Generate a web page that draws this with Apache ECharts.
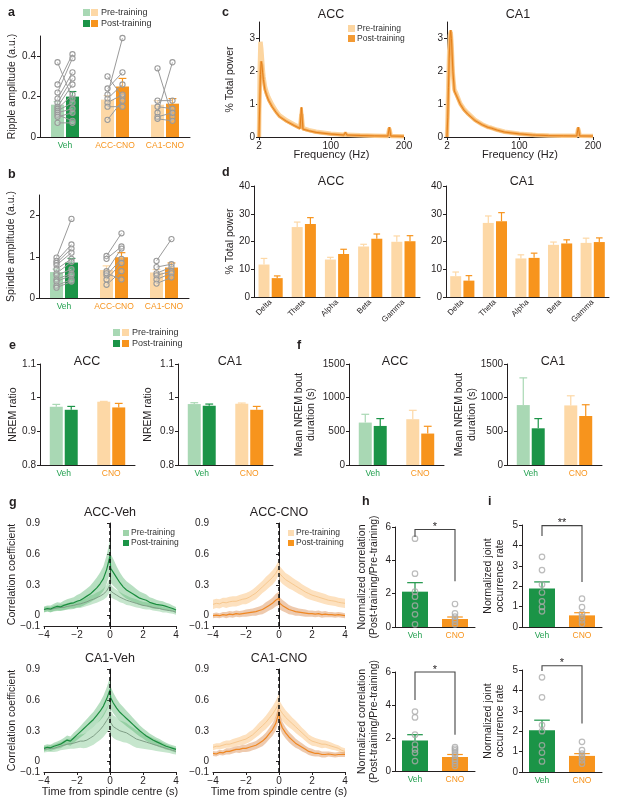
<!DOCTYPE html>
<html><head><meta charset="utf-8">
<script src="https://cdn.jsdelivr.net/npm/echarts@6/dist/echarts.min.js"></script>
<style>html,body{margin:0;padding:0;background:#fff}#c{width:617px;height:810px}</style>
</head><body><div id="c"></div>
<script>
// ---------------- DATA ----------------
// a: ripple amplitude
const groupCats = ['Veh', 'ACC-CNO', 'CA1-CNO'];
const rippleBarPre  = [0.16, 0.185, 0.16];
const rippleErrPre  = [0.175, 0.205, 0.18];
const rippleBarPost = [0.2, 0.25, 0.165];
const rippleErrPost = [0.225, 0.29, 0.19];
const rippleVehPre  = [0.37, 0.26, 0.22, 0.19, 0.17, 0.15, 0.14, 0.13, 0.12, 0.11, 0.10, 0.07];
const rippleVehPost = [0.19, 0.41, 0.39, 0.32, 0.29, 0.26, 0.21, 0.17, 0.14, 0.08, 0.12, 0.07];
const rippleAccPre  = [0.30, 0.24, 0.21, 0.19, 0.17, 0.15, 0.085];
const rippleAccPost = [0.20, 0.32, 0.49, 0.26, 0.21, 0.15, 0.18];
const rippleCa1Pre  = [0.34, 0.18, 0.15, 0.12, 0.10, 0.09];
const rippleCa1Post = [0.10, 0.18, 0.14, 0.37, 0.12, 0.08];
// b: spindle amplitude
const spindleBarPre  = [0.63, 0.68, 0.62];
const spindleErrPre  = [0.7, 0.78, 0.69];
const spindleBarPost = [0.86, 0.99, 0.74];
const spindleErrPost = [0.96, 1.1, 0.85];
const spindleVehPre  = [0.98, 0.9, 0.85, 0.8, 0.7, 0.6, 0.55, 0.45, 0.4, 0.3, 0.25];
const spindleVehPost = [1.92, 1.3, 1.2, 1.1, 0.95, 0.88, 0.7, 0.6, 0.55, 0.45, 0.4];
const spindleAccPre  = [1.02, 0.95, 0.65, 0.55, 0.45, 0.32, 0.6];
const spindleAccPost = [1.57, 1.25, 1.2, 0.95, 0.85, 0.65, 0.45];
const spindleCa1Pre  = [0.9, 0.75, 0.6, 0.55, 0.45, 0.35];
const spindleCa1Post = [1.43, 0.82, 0.75, 0.65, 0.6, 0.5];
// c: power spectra
const freqHz     = [2, 3, 4, 5, 6, 7, 8, 10, 12, 15, 20, 25, 30, 40, 50, 58, 60, 62, 70, 80, 100, 118, 120, 122, 140, 160, 178, 180, 182, 200];
const accPsdPre  = [0, 2.0, 2.9, 2.7, 2.4, 2.1, 1.85, 1.55, 1.38, 1.2, 0.98, 0.8, 0.66, 0.5, 0.38, 0.29, 0.7, 0.27, 0.21, 0.16, 0.1, 0.07, 0.12, 0.07, 0.05, 0.04, 0.03, 0.25, 0.03, 0.02];
const accPsdPost = [0, 1.0, 1.9, 2.3, 2.2, 1.95, 1.75, 1.45, 1.3, 1.12, 0.92, 0.76, 0.62, 0.47, 0.35, 0.26, 0.9, 0.24, 0.19, 0.14, 0.09, 0.06, 0.14, 0.06, 0.045, 0.035, 0.03, 0.3, 0.03, 0.02];
const ca1PsdPre  = [0, 0.8, 1.8, 2.6, 3.1, 3.2, 2.9, 1.9, 1.45, 1.3, 1.02, 0.85, 0.73, 0.52, 0.38, 0.3, 0.29, 0.28, 0.22, 0.16, 0.1, 0.065, 0.063, 0.06, 0.045, 0.04, 0.035, 0.25, 0.035, 0.03];
const ca1PsdPost = [0, 0.6, 1.5, 2.4, 3.0, 3.25, 3.0, 2.0, 1.4, 1.25, 1.0, 0.82, 0.7, 0.5, 0.37, 0.29, 0.28, 0.27, 0.21, 0.15, 0.095, 0.06, 0.058, 0.055, 0.042, 0.037, 0.032, 0.3, 0.032, 0.028];
// d: band power
const bandCats     = ['Delta', 'Theta', 'Alpha', 'Beta', 'Gamma'];
const dAccPre      = [11.7, 25.2, 13.5, 18.2, 19.9];
const dAccPreErr   = [13.9, 27.0, 14.3, 19.0, 22.0];
const dAccPost     = [6.8, 26.3, 15.5, 21.0, 20.1];
const dAccPostErr  = [7.6, 28.6, 17.2, 22.7, 22.1];
const dCa1Pre      = [7.5, 26.7, 13.9, 18.8, 19.5];
const dCa1PreErr   = [9.0, 29.2, 15.2, 19.8, 21.2];
const dCa1Post     = [5.9, 27.3, 14.1, 19.3, 19.8];
const dCa1PostErr  = [7.7, 30.4, 15.8, 20.6, 21.3];
// e: NREM ratio
const condCats     = ['Veh', 'CNO'];
const eAccPre      = [0.973, 0.988];
const eAccPreErr   = [0.980, 0.989];
const eAccPost     = [0.964, 0.971];
const eAccPostErr  = [0.974, 0.983];
const eCa1Pre      = [0.981, 0.982];
const eCa1PreErr   = [0.985, 0.984];
const eCa1Post     = [0.976, 0.964];
const eCa1PostErr  = [0.981, 0.974];
// f: NREM bout duration
const fAccPre      = [630, 680];
const fAccPreErr   = [753, 812];
const fAccPost     = [580, 467];
const fAccPostErr  = [689, 575];
const fCa1Pre      = [890, 885];
const fCa1PreErr   = [1294, 1028];
const fCa1Post     = [545, 728];
const fCa1PostErr  = [689, 895];
// g: cross-correlations
const timeS = [-4,-3.8,-3.6,-3.4,-3.2,-3,-2.8,-2.6,-2.4,-2.2,-2,-1.8,-1.6,-1.4,-1.2,-1,-0.8,-0.6,-0.4,-0.2,0,0.04,0.2,0.4,0.6,0.8,1,1.2,1.4,1.6,1.8,2,2.2,2.4,2.6,2.8,3,3.2,3.4,3.6,3.8,4];
const gAccVehPostM = [0.06,0.07,0.065,0.08,0.09,0.085,0.10,0.11,0.12,0.125,0.14,0.15,0.17,0.19,0.21,0.24,0.27,0.31,0.36,0.45,0.58,0.46,0.42,0.37,0.32,0.28,0.25,0.23,0.21,0.19,0.17,0.16,0.15,0.13,0.12,0.11,0.105,0.10,0.09,0.08,0.07,0.055];
const gAccVehPostS = [0.03,0.03,0.035,0.035,0.04,0.04,0.045,0.05,0.05,0.055,0.06,0.065,0.07,0.075,0.08,0.09,0.10,0.11,0.12,0.14,0.16,0.14,0.13,0.11,0.10,0.09,0.085,0.08,0.075,0.07,0.065,0.06,0.055,0.05,0.05,0.045,0.04,0.04,0.035,0.035,0.03,0.03];
const gAccVehPreM  = [0.06,0.065,0.06,0.07,0.075,0.08,0.08,0.09,0.095,0.10,0.11,0.115,0.125,0.135,0.15,0.16,0.175,0.19,0.21,0.24,0.30,0.24,0.22,0.20,0.18,0.165,0.15,0.14,0.13,0.12,0.11,0.10,0.095,0.09,0.08,0.075,0.07,0.06,0.055,0.05,0.045,0.035];
const gAccVehPreS  = [0.025,0.025,0.025,0.03,0.03,0.03,0.03,0.03,0.035,0.035,0.035,0.04,0.04,0.04,0.045,0.045,0.05,0.05,0.055,0.06,0.07,0.06,0.055,0.05,0.05,0.045,0.045,0.04,0.04,0.04,0.035,0.035,0.035,0.03,0.03,0.03,0.03,0.03,0.025,0.025,0.025,0.025];
const gAccCnoPreM  = [0.11,0.12,0.115,0.13,0.125,0.135,0.14,0.14,0.15,0.16,0.165,0.18,0.20,0.22,0.25,0.28,0.31,0.34,0.37,0.41,0.47,0.41,0.38,0.35,0.33,0.31,0.29,0.27,0.25,0.23,0.215,0.20,0.19,0.18,0.17,0.16,0.15,0.145,0.14,0.13,0.125,0.12];
const gAccCnoPreS  = [0.045,0.045,0.045,0.045,0.05,0.05,0.05,0.05,0.05,0.05,0.055,0.055,0.055,0.06,0.06,0.06,0.065,0.065,0.07,0.07,0.07,0.07,0.07,0.065,0.065,0.06,0.06,0.06,0.055,0.055,0.055,0.05,0.05,0.05,0.05,0.05,0.045,0.045,0.045,0.045,0.045,0.045];
const gAccCnoPostM = [0.0,0.005,0.0,0.01,0.005,0.015,0.01,0.02,0.015,0.02,0.025,0.03,0.035,0.04,0.05,0.06,0.08,0.10,0.12,0.15,0.17,0.12,0.10,0.08,0.06,0.05,0.04,0.035,0.03,0.025,0.02,0.02,0.015,0.02,0.01,0.015,0.01,0.01,0.005,0.01,0.005,0.0];
const gAccCnoPostS = [0.025,0.025,0.025,0.025,0.03,0.03,0.03,0.03,0.03,0.03,0.035,0.035,0.035,0.04,0.04,0.045,0.05,0.05,0.055,0.06,0.065,0.06,0.055,0.05,0.045,0.04,0.04,0.035,0.035,0.035,0.03,0.03,0.03,0.03,0.03,0.03,0.025,0.025,0.025,0.025,0.025,0.025];
const gCa1VehPostM = [0.13,0.14,0.135,0.15,0.16,0.17,0.19,0.21,0.2,0.23,0.26,0.29,0.32,0.35,0.38,0.41,0.45,0.49,0.54,0.61,0.70,0.62,0.57,0.52,0.48,0.45,0.42,0.39,0.36,0.33,0.30,0.275,0.25,0.23,0.21,0.195,0.18,0.165,0.15,0.14,0.13,0.12];
const gCa1VehPostS = [0.03,0.03,0.03,0.035,0.035,0.04,0.04,0.045,0.045,0.05,0.05,0.055,0.06,0.065,0.07,0.075,0.08,0.09,0.1,0.11,0.12,0.11,0.1,0.09,0.085,0.08,0.075,0.07,0.065,0.06,0.055,0.05,0.05,0.045,0.045,0.04,0.04,0.035,0.035,0.03,0.03,0.03];
const gCa1VehPreM  = [0.12,0.125,0.13,0.13,0.14,0.15,0.16,0.17,0.175,0.18,0.19,0.2,0.2,0.21,0.23,0.25,0.28,0.31,0.35,0.40,0.45,0.38,0.34,0.32,0.30,0.29,0.28,0.26,0.24,0.22,0.21,0.20,0.19,0.18,0.17,0.16,0.15,0.14,0.13,0.12,0.11,0.10];
const gCa1VehPreS  = [0.03,0.03,0.035,0.035,0.04,0.04,0.045,0.05,0.05,0.055,0.06,0.065,0.07,0.075,0.08,0.085,0.09,0.1,0.11,0.12,0.13,0.12,0.11,0.11,0.1,0.1,0.095,0.09,0.09,0.085,0.08,0.075,0.07,0.065,0.06,0.055,0.05,0.045,0.04,0.035,0.035,0.03];
const gCa1CnoPreM  = [0.14,0.15,0.15,0.16,0.17,0.17,0.18,0.19,0.2,0.21,0.22,0.24,0.26,0.29,0.32,0.35,0.38,0.42,0.46,0.51,0.57,0.51,0.47,0.43,0.40,0.37,0.34,0.31,0.28,0.25,0.22,0.2,0.19,0.18,0.17,0.17,0.16,0.15,0.14,0.13,0.11,0.1];
const gCa1CnoPreS  = [0.03,0.03,0.03,0.035,0.035,0.035,0.04,0.04,0.04,0.045,0.045,0.05,0.05,0.055,0.06,0.06,0.065,0.07,0.075,0.08,0.09,0.08,0.075,0.07,0.065,0.06,0.06,0.055,0.05,0.05,0.045,0.045,0.04,0.04,0.04,0.035,0.035,0.035,0.03,0.03,0.03,0.03];
const gCa1CnoPostM = [0.08,0.075,0.09,0.085,0.1,0.1,0.11,0.12,0.12,0.13,0.13,0.14,0.15,0.16,0.18,0.2,0.23,0.27,0.31,0.37,0.48,0.40,0.33,0.28,0.24,0.21,0.18,0.16,0.14,0.12,0.1,0.09,0.08,0.08,0.07,0.07,0.075,0.07,0.065,0.07,0.07,0.07];
const gCa1CnoPostS = [0.025,0.025,0.025,0.025,0.03,0.03,0.03,0.03,0.035,0.035,0.035,0.04,0.04,0.04,0.045,0.05,0.05,0.055,0.06,0.07,0.08,0.07,0.06,0.055,0.05,0.05,0.045,0.04,0.04,0.035,0.035,0.035,0.03,0.03,0.03,0.03,0.025,0.025,0.025,0.025,0.025,0.025];
// h: normalized correlation
const hTopMean = [2.12, 0.48];
const hTopErr  = [2.66, 0.6];
const hTopVeh  = [5.3, 3.2, 2.12, 1.82, 1.28, 0.76, 0.16];
const hTopCno  = [1.38, 0.82, 0.62, 0.46, 0.32, 0.16];
const hTopBracket = [5.85, 5.4, 2.75];
const hBotMean = [1.85, 0.85];
const hBotErr  = [2.2, 1.0];
const hBotVeh  = [3.6, 3.25, 2.2, 1.6, 1.3, 1.1, 0.6];
const hBotCno  = [1.45, 1.35, 1.25, 1.1, 0.95, 0.75, 0.6, 0.45, 0.3];
const hBotBracket = [6.0, 4.3, 2.2];
// i: normalized joint occurrence rate
const iTopMean = [1.89, 0.57];
const iTopErr  = [2.21, 0.7];
const iTopVeh  = [3.44, 2.79, 2.08, 1.69, 1.26, 0.98, 0.77];
const iTopCno  = [1.39, 0.97, 0.66, 0.49, 0.33, 0.16];
const iTopBracket = [4.97, 4.46, 2.21];
const iBotMean = [2.05, 0.79];
const iBotErr  = [2.54, 0.9];
const iBotVeh  = [4.64, 3.66, 2.3, 2.0, 1.31, 0.95, 0.52];
const iBotCno  = [1.48, 1.07, 0.9, 0.74, 0.57, 0.41];
const iBotBracket = [5.21, 4.95, 2.38];

// ---------------- STYLE ----------------
const FONT = 'Liberation Sans, Arial, Helvetica, sans-serif';
const INK = '#231f20';
const GREEN = '#1b9447', LGREEN = '#a9d8b4', ORANGE = '#f7941d', LORANGE = '#fdd8a6', PT = '#9a9a9a';
const VEHC = '#22a04f', CNOC = '#f7941d';

const option = {animation: false, backgroundColor: '#fff', grid: [], xAxis: [], yAxis: [], series: [], graphic: []};
function fmt(v) { return v < 0 ? '\u2212' + String(Math.abs(v)) : String(v); }
function grid(l, t, w, h) {
  option.grid.push({left: l, top: t, width: w, height: h, containLabel: false, outerBoundsMode: 'none'});
  return option.grid.length - 1;
}
function yAxis(gi, min, max, ticks, name, gap, lh) {
  option.yAxis.push({
    type: 'value', gridIndex: gi, min: min, max: max,
    name: name || '', nameLocation: 'middle', nameGap: gap || 20, nameMoveOverlap: false,
    nameTextStyle: {fontSize: 10.5, color: INK, fontFamily: FONT, lineHeight: lh || 12},
    axisLine: {show: true, lineStyle: {color: INK, width: 1}},
    axisTick: {show: true, length: 3, lineStyle: {color: INK, width: 1}, customValues: ticks},
    axisLabel: {fontSize: 10, color: INK, fontFamily: FONT, margin: 4, customValues: ticks, formatter: fmt},
    splitLine: {show: false}
  });
}
function xCat(gi, cats, colors, extra) {
  const ax = {
    type: 'category', gridIndex: gi, data: cats,
    axisLine: {show: true, onZero: false, lineStyle: {color: INK, width: 1}},
    axisTick: {show: false},
    axisLabel: {fontSize: 8.5, fontFamily: FONT, margin: 4, interval: 0, color: function (v, i) { return colors[i]; }},
    splitLine: {show: false}
  };
  if (extra) Object.assign(ax.axisLabel, extra);
  option.xAxis.push(ax);
}
function xVal(gi, min, max, ticks, name, gap) {
  option.xAxis.push({
    type: 'value', gridIndex: gi, min: min, max: max,
    name: name || '', nameLocation: 'middle', nameGap: gap || 12, nameMoveOverlap: false,
    nameTextStyle: {fontSize: 11, color: INK, fontFamily: FONT},
    axisLine: {show: true, onZero: false, lineStyle: {color: INK, width: 1}},
    axisTick: {show: true, length: 3, lineStyle: {color: INK}, customValues: ticks},
    axisLabel: {fontSize: 10, color: INK, fontFamily: FONT, margin: 4, customValues: ticks, formatter: fmt},
    splitLine: {show: false}
  });
}
function bars(gi, vals, cols, bw, gapPct) {
  option.series.push({
    type: 'bar', xAxisIndex: gi, yAxisIndex: gi, barWidth: bw, barGap: gapPct + '%', z: 2, silent: true,
    data: vals.map(function (v, i) { return {value: v, itemStyle: {color: cols[i]}}; })
  });
}
function errBars(gi, means, errs, cols, offset, bw) {
  const rows = means.map(function (m, i) { return [i, m, errs[i]]; });
  option.series.push({
    type: 'custom', xAxisIndex: gi, yAxisIndex: gi, z: 3, silent: true, encode: {x: 0, y: [1, 2]}, data: rows,
    renderItem: function (p, api) {
      const c = api.value(0);
      const a = api.coord([c, api.value(1)]), b = api.coord([c, api.value(2)]);
      const x = a[0] + offset, h = bw * 0.3, col = cols[p.dataIndex];
      return {type: 'group', children: [
        {type: 'line', shape: {x1: x, y1: a[1], x2: x, y2: b[1]}, style: {stroke: col, lineWidth: 1.2}},
        {type: 'line', shape: {x1: x - h, y1: b[1], x2: x + h, y2: b[1]}, style: {stroke: col, lineWidth: 1.2}}
      ]};
    }
  });
}
function pairs(gi, cat, pre, post, off) {
  option.series.push({
    type: 'custom', xAxisIndex: gi, yAxisIndex: gi, z: 4, silent: true, encode: {x: 0, y: [1, 2]},
    data: pre.map(function (v, i) { return [cat, v, post[i]]; }),
    renderItem: function (p, api) {
      const c = api.value(0);
      const a = api.coord([c, api.value(1)]), b = api.coord([c, api.value(2)]);
      const x1 = a[0] - off, x2 = b[0] + off;
      const cs = {fill: 'rgba(255,255,255,0.25)', stroke: PT, lineWidth: 1.1};
      return {type: 'group', children: [
        {type: 'line', shape: {x1: x1, y1: a[1], x2: x2, y2: b[1]}, style: {stroke: PT, lineWidth: 1}},
        {type: 'circle', shape: {cx: x1, cy: a[1], r: 2.6}, style: cs},
        {type: 'circle', shape: {cx: x2, cy: b[1], r: 2.6}, style: cs}
      ]};
    }
  });
}
function dots(gi, cat, vals) {
  option.series.push({
    type: 'scatter', xAxisIndex: gi, yAxisIndex: gi, z: 4, silent: true, symbol: 'circle', symbolSize: 5.5,
    itemStyle: {color: 'rgba(255,255,255,0)', borderColor: '#ababab', borderWidth: 1.2},
    data: vals.map(function (v) { return [cat, v]; })
  });
}
function bracket(gi, br, star) {
  option.series.push({
    type: 'custom', xAxisIndex: gi, yAxisIndex: gi, z: 5, silent: true, clip: false, encode: {x: 0, y: [1, 2, 3]},
    data: [[0, br[0], br[1], br[2]]],
    renderItem: function (p, api) {
      const l = api.coord([0, api.value(1)]), r = api.coord([1, api.value(1)]);
      const lb = api.coord([0, api.value(2)]), rb = api.coord([1, api.value(3)]);
      return {type: 'group', children: [
        {type: 'polyline', shape: {points: [[l[0], lb[1]], l, r, [r[0], rb[1]]]}, style: {stroke: '#444', lineWidth: 1.1, fill: null}},
        {type: 'text', style: {text: star, x: (l[0] + r[0]) / 2, y: l[1] + 3, fill: INK, font: '11px ' + FONT, textAlign: 'center', textVerticalAlign: 'bottom', align: 'center', verticalAlign: 'bottom'}}
      ]};
    }
  });
}
function band(gi, xs, m, s, color) {
  option.series.push({
    type: 'custom', xAxisIndex: gi, yAxisIndex: gi, z: 1, silent: true, encode: {x: 0, y: 1},
    data: [[xs[0], m[0]]],
    renderItem: function (p, api) {
      const pts = [];
      for (let i = 0; i < xs.length; i++) pts.push(api.coord([xs[i], m[i] + s[i]]));
      for (let i = xs.length - 1; i >= 0; i--) pts.push(api.coord([xs[i], m[i] - s[i]]));
      return {type: 'polygon', shape: {points: pts}, style: {fill: color}};
    }
  });
}
function line(gi, xs, m, color, width, z, extra) {
  const s = {
    type: 'line', xAxisIndex: gi, yAxisIndex: gi, z: z || 3, silent: true, showSymbol: false, symbol: 'none',
    lineStyle: {color: color, width: width}, data: xs.map(function (x, i) { return [x, m[i]]; })
  };
  option.series.push(Object.assign(s, extra || {}));
}
function txt(x, y, t, size, opts) {
  opts = opts || {};
  option.graphic.push({type: 'text', x: x, y: y, silent: true, z: 100, style: {
    text: t, fill: opts.color || INK, font: (opts.bold ? 'bold ' : '') + size + 'px ' + FONT,
    textAlign: opts.align || 'left', textVerticalAlign: 'middle', align: opts.align || 'left', verticalAlign: 'middle'}});
}
function rect(x, y, w, h, color) {
  option.graphic.push({type: 'rect', silent: true, z: 100, shape: {x: x, y: y, width: w, height: h}, style: {fill: color}});
}

const grpCols = [VEHC, CNOC, CNOC];
const preCols3 = [LGREEN, LORANGE, LORANGE], postCols3 = [GREEN, ORANGE, ORANGE];
const preCols2 = [LGREEN, LORANGE], postCols2 = [GREEN, ORANGE];

// ---------- a ----------
(function () {
  const gi = grid(40, 36, 150, 101);
  xCat(gi, groupCats, grpCols);
  yAxis(gi, 0, 0.5, [0, 0.2, 0.4], 'Ripple amplitude (a.u.)', 22);
  const bw = 13, gp = 15, off = bw * (1 + gp / 100) / 2;
  bars(gi, rippleBarPre, preCols3, bw, gp); bars(gi, rippleBarPost, postCols3, bw, gp);
  errBars(gi, rippleBarPre, rippleErrPre, preCols3, -off, bw);
  errBars(gi, rippleBarPost, rippleErrPost, postCols3, off, bw);
  pairs(gi, 0, rippleVehPre, rippleVehPost, off);
  pairs(gi, 1, rippleAccPre, rippleAccPost, off);
  pairs(gi, 2, rippleCa1Pre, rippleCa1Post, off);
})();
// ---------- b ----------
(function () {
  const gi = grid(39, 195, 150, 103);
  xCat(gi, groupCats, grpCols);
  yAxis(gi, 0, 2.5, [0, 1, 2], 'Spindle amplitude (a.u.)', 22);
  const bw = 13, gp = 15, off = bw * (1 + gp / 100) / 2;
  bars(gi, spindleBarPre, preCols3, bw, gp); bars(gi, spindleBarPost, postCols3, bw, gp);
  errBars(gi, spindleBarPre, spindleErrPre, preCols3, -off, bw);
  errBars(gi, spindleBarPost, spindleErrPost, postCols3, off, bw);
  pairs(gi, 0, spindleVehPre, spindleVehPost, off);
  pairs(gi, 1, spindleAccPre, spindleAccPost, off);
  pairs(gi, 2, spindleCa1Pre, spindleCa1Post, off);
})();
// ---------- c ----------
function psd(gi, pre, post) {
  line(gi, freqHz, pre, '#fcd5a0', 4.5, 2);
  line(gi, freqHz, post, '#f4ad5c', 2.8, 3);
  line(gi, freqHz, post, '#e4801a', 1, 4);
}
(function () {
  let gi = grid(259, 22, 145, 115);
  xVal(gi, 2, 200, [2, 100, 200], 'Frequency (Hz)', 12);
  yAxis(gi, 0, 3.5, [0, 1, 2, 3], '% Total power', 23);
  psd(gi, accPsdPre, accPsdPost);
  gi = grid(447, 22, 146, 115);
  xVal(gi, 2, 200, [2, 100, 200], 'Frequency (Hz)', 12);
  yAxis(gi, 0, 3.5, [0, 1, 2, 3]);
  psd(gi, ca1PsdPre, ca1PsdPost);
})();
// ---------- d ----------
function dPanel(l, w, pre, preE, post, postE, name) {
  const gi = grid(l, 186, w, 111);
  xCat(gi, bandCats, [INK, INK, INK, INK, INK, INK], {rotate: 45, fontSize: 8, margin: 4});
  yAxis(gi, 0, 40, [0, 10, 20, 30, 40], name, 18);
  const bw = 11, gp = 20, off = bw * (1 + gp / 100) / 2;
  const pc = bandCats.map(function () { return LORANGE; }), oc = bandCats.map(function () { return ORANGE; });
  bars(gi, pre, pc, bw, gp); bars(gi, post, oc, bw, gp);
  errBars(gi, pre, preE, pc, -off, bw); errBars(gi, post, postE, oc, off, bw);
}
dPanel(254, 166, dAccPre, dAccPreErr, dAccPost, dAccPostErr, '% Total power');
dPanel(446, 163, dCa1Pre, dCa1PreErr, dCa1Post, dCa1PostErr, '');
// ---------- e, f ----------
function condPanel(l, min, max, ticks, pre, preE, post, postE, name, gap, lh) {
  const gi = grid(l, 364, 95, 101);
  xCat(gi, condCats, [VEHC, CNOC]);
  yAxis(gi, min, max, ticks, name, gap, lh);
  const bw = 13, gp = 15, off = bw * (1 + gp / 100) / 2;
  bars(gi, pre, preCols2, bw, gp); bars(gi, post, postCols2, bw, gp);
  errBars(gi, pre, preE, preCols2, -off, bw); errBars(gi, post, postE, postCols2, off, bw);
}
condPanel(40, 0.8, 1.1, [0.8, 0.9, 1, 1.1], eAccPre, eAccPreErr, eAccPost, eAccPostErr, 'NREM ratio', 21);
condPanel(178, 0.8, 1.1, [0.8, 0.9, 1, 1.1], eCa1Pre, eCa1PreErr, eCa1Post, eCa1PostErr, 'NREM ratio', 24);
condPanel(349, 0, 1500, [0, 500, 1000, 1500], fAccPre, fAccPreErr, fAccPost, fAccPostErr, 'Mean NREM bout\nduration (s)', 32, 12);
condPanel(507, 0, 1500, [0, 500, 1000, 1500], fCa1Pre, fCa1PreErr, fCa1Post, fCa1PostErr, 'Mean NREM bout\nduration (s)', 28, 13);
// ---------- g ----------
function gPanel(l, t, preM, preS, postM, postS, cols, yname, xname) {
  const gi = grid(l, t, 132, 103);
  xVal(gi, -4, 4, [-4, -2, 0, 2, 4], xname, 14);
  yAxis(gi, -0.1, 0.9, [-0.1, 0, 0.3, 0.6, 0.9], yname, 26);
  band(gi, timeS, preM, preS, cols.preBand);
  band(gi, timeS, postM, postS, cols.postBand);
  line(gi, timeS, preM, cols.preLine, 1, 3);
  line(gi, timeS, postM, cols.postLine, 1.2, 4, {markLine: {silent: true, symbol: ['none', 'none'], label: {show: false},
    lineStyle: {color: '#111', type: [4, 3], width: 1.5}, data: [{xAxis: 0}]}});
}
const vehCols = {preBand: '#c6e6cd', postBand: 'rgba(84,178,108,0.42)', preLine: '#7f9e86', postLine: '#1a8d3e'};
const cnoCols = {preBand: '#fde1bf', postBand: 'rgba(214,128,62,0.42)', preLine: '#f7c88f', postLine: '#ef8722'};
gPanel(44, 523, gAccVehPreM, gAccVehPreS, gAccVehPostM, gAccVehPostS, vehCols, 'Correlation coefficient', '');
gPanel(213, 523, gAccCnoPreM, gAccCnoPreS, gAccCnoPostM, gAccCnoPostS, cnoCols, '', '');
gPanel(44, 669, gCa1VehPreM, gCa1VehPreS, gCa1VehPostM, gCa1VehPostS, vehCols, 'Correlation coefficient', 'Time from spindle centre (s)');
gPanel(213, 669, gCa1CnoPreM, gCa1CnoPreS, gCa1CnoPostM, gCa1CnoPostS, cnoCols, '', 'Time from spindle centre (s)');
// ---------- h, i ----------
function hiPanel(l, t, h, max, ticks, mean, err, veh, cno, br, star, name, gap) {
  const gi = grid(l, t, 80, h);
  xCat(gi, condCats, [VEHC, CNOC]);
  yAxis(gi, 0, max, ticks, name, gap, 12);
  bars(gi, mean, [GREEN, ORANGE], 26, 0);
  errBars(gi, mean, err, [GREEN, ORANGE], 0, 26);
  dots(gi, 0, veh); dots(gi, 1, cno);
  bracket(gi, br, star);
}
hiPanel(395, 527, 100, 6, [0, 2, 4, 6], hTopMean, hTopErr, hTopVeh, hTopCno, hTopBracket, '*', 'Normalized correlation\n(Post-training/Pre-training)', 15);
hiPanel(395, 672, 99, 6, [0, 2, 4, 6], hBotMean, hBotErr, hBotVeh, hBotCno, hBotBracket, '*', 'Normalized correlation\n(Post-training/Pre-training)', 15);
hiPanel(522, 525, 102, 5, [0, 1, 2, 3, 4, 5], iTopMean, iTopErr, iTopVeh, iTopCno, iTopBracket, '**', 'Normalized joint\noccurrence rate', 16);
hiPanel(522, 670, 102, 5, [0, 1, 2, 3, 4, 5], iBotMean, iBotErr, iBotVeh, iBotCno, iBotBracket, '*', 'Normalized joint\noccurrence rate', 16);

// ---------- text: panel letters, titles, legends ----------
[['a', 8, 13], ['b', 8, 175], ['c', 222, 13], ['d', 222, 173], ['e', 9, 346], ['f', 297, 346], ['g', 9, 503], ['h', 362, 502], ['i', 488, 502]]
  .forEach(function (d) { txt(d[1], d[2], d[0], 12.5, {bold: true}); });
[['ACC', 331, 15], ['CA1', 518, 15], ['ACC', 331, 182], ['CA1', 522, 182], ['ACC', 87, 362], ['CA1', 230, 362],
 ['ACC', 395, 362], ['CA1', 553, 362], ['ACC-Veh', 110, 513], ['ACC-CNO', 279, 513], ['CA1-Veh', 110, 659], ['CA1-CNO', 279, 659]]
  .forEach(function (d) { txt(d[1], d[2], d[0], 12.5, {align: 'center'}); });
// legend a
rect(83, 9, 7, 7, LGREEN); rect(91, 9, 7, 7, LORANGE); txt(101, 12.5, 'Pre-training', 9, {color: '#333'});
rect(83, 20, 7, 7, GREEN); rect(91, 20, 7, 7, ORANGE); txt(101, 23.5, 'Post-training', 9, {color: '#333'});
// legend e
rect(113, 329, 7, 7, LGREEN); rect(122, 329, 7, 7, LORANGE); txt(132, 332.5, 'Pre-training', 9, {color: '#333'});
rect(113, 340, 7, 7, GREEN); rect(122, 340, 7, 7, ORANGE); txt(132, 343.5, 'Post-training', 9, {color: '#333'});
// legend c
rect(348, 25, 7, 7, '#fcd5a0'); txt(357, 28.5, 'Pre-training', 8.5, {color: '#333'});
rect(348, 35, 7, 7, '#f39a33'); txt(357, 38.5, 'Post-training', 8.5, {color: '#333'});
// legend g
rect(123, 530, 6, 6, '#9fd3aa'); txt(131, 533, 'Pre-training', 8.5, {color: '#333'});
rect(123, 540, 6, 6, GREEN); txt(131, 543, 'Post-training', 8.5, {color: '#333'});
rect(288, 530, 6, 6, '#fcdcb3'); txt(296, 533, 'Pre-training', 8.5, {color: '#333'});
rect(288, 540, 6, 6, ORANGE); txt(296, 543, 'Post-training', 8.5, {color: '#333'});

const chart = echarts.init(document.getElementById('c'), null, {renderer: 'canvas', width: 617, height: 810});
chart.setOption(option);
</script></body></html>
